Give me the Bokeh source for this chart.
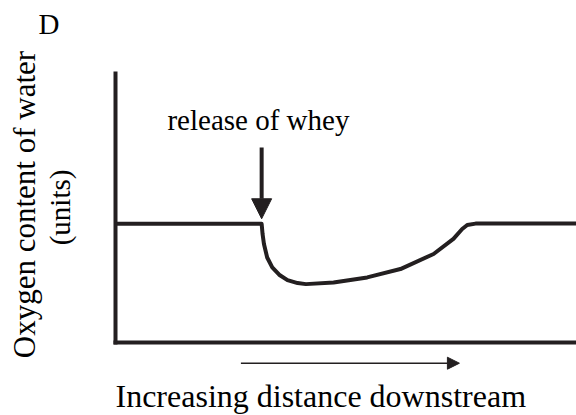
import math
from bokeh.plotting import figure
from bokeh.models import Label, Arrow, NormalHead, Range1d, FixedTicker
from bokeh.embed import file_html
from bokeh.resources import INLINE

# Oxygen content of water along the river (arbitrary units)
distance = [0.0, 31.7, 31.9, 32.2, 32.9, 34.0, 35.5, 37.3, 39.5, 41.3, 47.3,
            54.6, 61.8, 69.0, 73.3, 75.2, 76.3, 78.1, 100.0]
oxygen = [44.1, 44.1, 40.3, 36.6, 31.6, 27.9, 25.2, 23.2, 22.1, 21.7, 22.3,
          24.2, 27.3, 32.9, 38.5, 42.2, 43.7, 44.2, 44.2]

release_distance = 31.7
panel_letter = "D"
release_text = "release of whey"
x_title = "Increasing distance downstream"
y_title_1 = "Oxygen content of water"
y_title_2 = "(units)"

INK = "#231f20"
FONT = "'Liberation Serif', serif"

W, H = 576, 415
p = figure(width=W, height=H, output_backend="svg", toolbar_location=None,
           x_range=Range1d(-24.95, 100.0), y_range=Range1d(-27.14, 127.14),
           min_border_left=0, min_border_right=0, min_border_top=0,
           min_border_bottom=0)
p.outline_line_color = None
p.grid.visible = False
p.background_fill_color = "white"
p.border_fill_color = "white"

for ax in (p.xaxis[0], p.yaxis[0]):
    ax.fixed_location = 0
    ax.bounds = (0, 100)
    ax.ticker = FixedTicker(ticks=[])
    ax.axis_line_width = 4
    ax.axis_line_color = INK
    ax.axis_line_cap = "square"
    ax.major_tick_line_color = None
    ax.minor_tick_line_color = None
    ax.major_label_text_font_size = "0px"

p.line(distance, oxygen, line_width=4, line_color=INK, line_join="round")

# release arrow
p.add_layout(Arrow(end=NormalHead(size=20, fill_color=INK, line_color=INK, line_width=1),
                   x_start=release_distance, y_start=72.5,
                   x_end=release_distance, y_end=46.0,
                   line_width=4, line_color=INK))
p.add_layout(Label(x=31.0, y=82.8, text=release_text, text_align="center",
                   text_baseline="alphabetic", text_font=FONT,
                   text_font_size="29px", text_color="black"))

# downstream arrow
p.add_layout(Arrow(end=NormalHead(size=12, fill_color=INK, line_color=INK, line_width=1),
                   x_start=27.2, y_start=-7.7, x_end=74.6, y_end=-7.7,
                   line_width=1.5, line_color=INK))

p.add_layout(Label(x=0.0, y=-20.0, text=x_title, text_align="left",
                   text_baseline="alphabetic", text_font=FONT,
                   text_font_size="32px", text_color="black"))
p.add_layout(Label(x=-19.8, y=51.3, text=y_title_1, angle=math.pi / 2,
                   text_align="center", text_baseline="alphabetic", text_font=FONT,
                   text_font_size="31px", text_color="black"))
p.add_layout(Label(x=-12.1, y=50.2, text=y_title_2, angle=math.pi / 2,
                   text_align="center", text_baseline="alphabetic", text_font=FONT,
                   text_font_size="29px", text_color="black"))
p.add_layout(Label(x=-16.7, y=118.4, text=panel_letter, text_align="left",
                   text_baseline="alphabetic", text_font=FONT,
                   text_font_size="29px", text_color="black"))

open("out.html", "w").write(file_html(p, INLINE))
